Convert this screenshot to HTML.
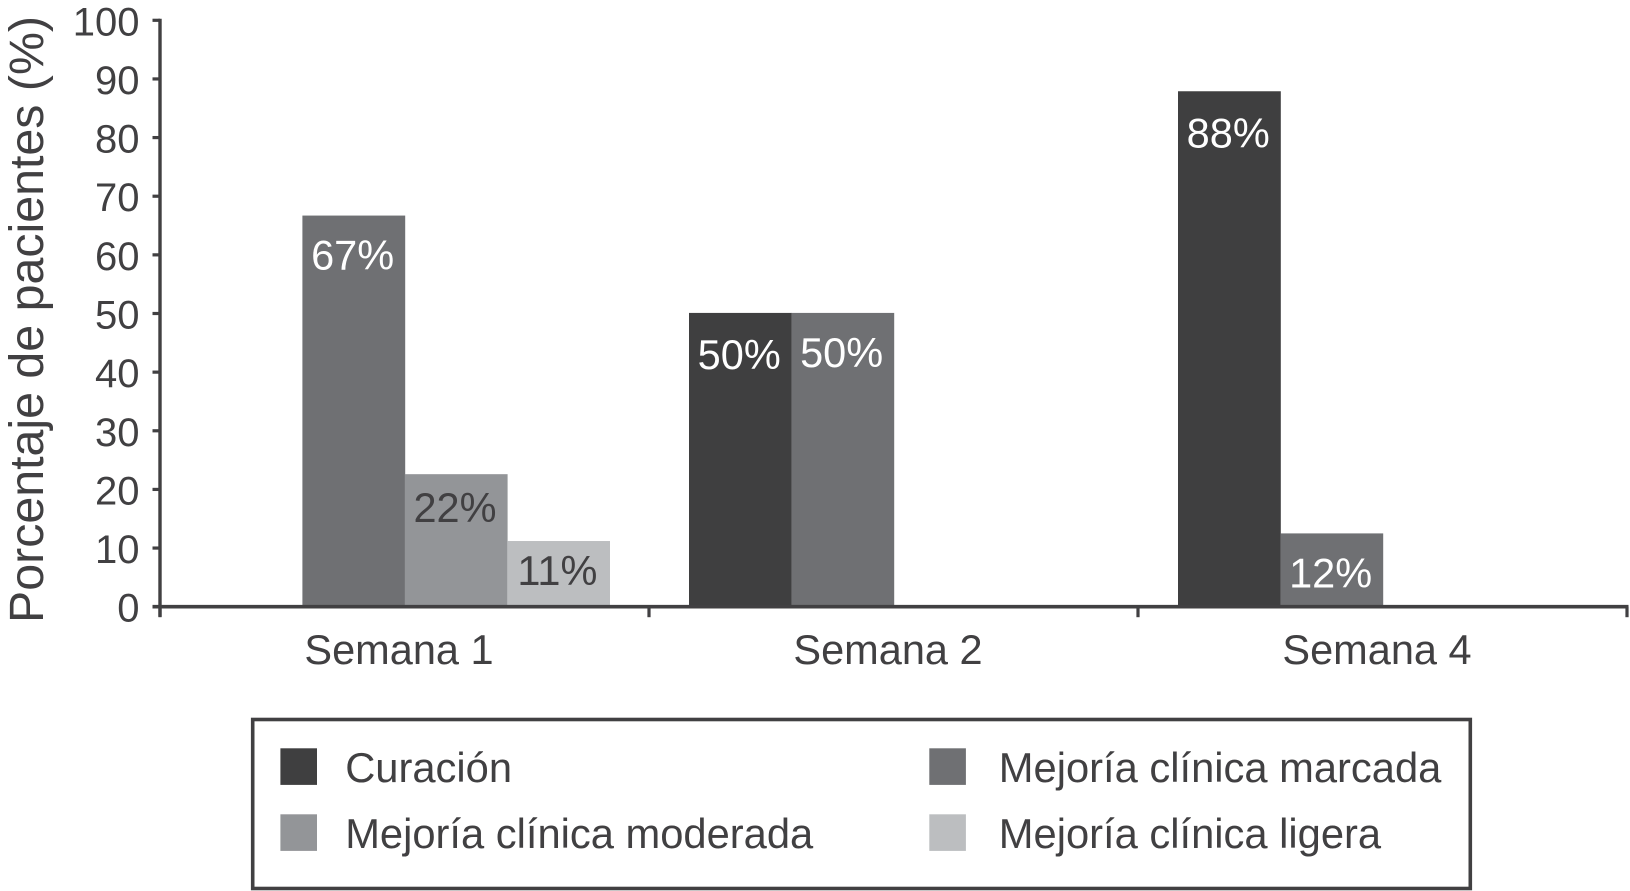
<!DOCTYPE html>
<html lang="es">
<head>
<meta charset="utf-8">
<title>Porcentaje de pacientes por semana</title>
<style>
  html, body { margin: 0; padding: 0; background: #fff; }
  svg { display: block; }
  text { font-family: "Liberation Sans", Arial, sans-serif; fill: #414042; }
</style>
</head>
<body>
<svg id="chart" xmlns="http://www.w3.org/2000/svg" width="1630" height="891" viewBox="0 0 1630 891">
  <rect x="0" y="0" width="1630" height="891" fill="#ffffff"/>
  <text transform="translate(43 623) rotate(-90)" font-size="48.5" textLength="607" lengthAdjust="spacingAndGlyphs">Porcentaje de pacientes (%)</text>
  <g id="bars"></g>
  <g id="axes"></g>
  <g>
    <rect x="252.7" y="719.5" width="1217.6" height="169" fill="#ffffff" stroke="#414042" stroke-width="3.6"/>
    <rect x="280.4" y="748.3" width="36.6" height="36.6" fill="#3f3f40"/>
    <text x="345.2" y="782" font-size="41.7">Curación</text>
    <rect x="929.3" y="748.3" width="36.6" height="36.6" fill="#6f7073"/>
    <text x="998.8" y="782" font-size="41.7">Mejoría clínica marcada</text>
    <rect x="280.4" y="814.3" width="36.6" height="36.6" fill="#939598"/>
    <text x="345.2" y="848" font-size="41.7">Mejoría clínica moderada</text>
    <rect x="929.3" y="814.3" width="36.6" height="36.6" fill="#bcbec0"/>
    <text x="998.8" y="848" font-size="41.7">Mejoría clínica ligera</text>
  </g>
</svg>
<script>
// Chart data
var categories = ["Semana 1", "Semana 2", "Semana 4"];
var yTicks = [0, 10, 20, 30, 40, 50, 60, 70, 80, 90, 100];
var seriesNames = ["curacion", "marcada", "moderada", "ligera"];
var curacion = [null, 50.1, 87.9];
var marcada = [66.7, 50.1, 12.5];
var moderada = [22.6, null, null];
var ligera = [11.2, null, null];
var curacionLabels = ["", "50%", "88%"];
var marcadaLabels = ["67%", "50%", "12%"];
var moderadaLabels = ["22%", "", ""];
var ligeraLabels = ["11%", "", ""];

var SVGNS = "http://www.w3.org/2000/svg";
var seriesValues = [curacion, marcada, moderada, ligera];
var seriesLabels = [curacionLabels, marcadaLabels, moderadaLabels, ligeraLabels];
var seriesFill = ["#3f3f40", "#6f7073", "#939598", "#bcbec0"];
var labelFill = ["#ffffff", "#ffffff", "#414042", "#414042"];
var labelDrop = [56, 54, 48, 44];

// Axis functions
var yBase = 606.7, yUnit = 5.864;
var xStart = 160, catStep = 489, groupPad = 40, barW = 102.4;
function yScale(v) { return yBase - v * yUnit; }
function catX(i) { return xStart + i * catStep; }
function barX(i, s) { return catX(i) + groupPad + s * barW; }

function make(tag, attrs, parent, content) {
  var el = document.createElementNS(SVGNS, tag);
  for (var k in attrs) el.setAttribute(k, attrs[k]);
  if (content !== undefined) el.textContent = content;
  parent.appendChild(el);
  return el;
}

var barsG = document.getElementById("bars");
var axesG = document.getElementById("axes");
var axisColor = "#414042";

seriesValues.forEach(function (values, s) {
  values.forEach(function (v, i) {
    if (v === null) return;
    var bar = make("rect", {
      x: barX(i, s), y: yScale(v),
      width: barW + 0.4, height: yBase - yScale(v),
      fill: seriesFill[s]
    }, barsG);
    
    
    var lab = make("text", {
      x: barX(i, s) + barW / 2 - 1, y: yScale(v) + labelDrop[s],
      "text-anchor": "middle", "font-size": 41.5
    }, barsG, seriesLabels[s][i]);
    lab.style.fill = labelFill[s];
    
    
  });
});

var yLine = make("line", {
  x1: xStart, x2: xStart, y1: yScale(100) - 1.5, y2: yBase + 10,
  stroke: axisColor, "stroke-width": 3.4
}, axesG);



var xLine = make("line", {
  x1: xStart - 7.5, x2: catX(categories.length) + 1.5, y1: yBase, y2: yBase,
  stroke: axisColor, "stroke-width": 3.6
}, axesG);



yTicks.forEach(function (t) {
  var tick = make("line", {
    x1: xStart - 7.5, x2: xStart, y1: yScale(t), y2: yScale(t),
    stroke: axisColor, "stroke-width": 3.2
  }, axesG);
  
  
  var lab = make("text", {
    x: 139.5, y: yScale(t) + 15, "text-anchor": "end", "font-size": 40
  }, axesG, String(t));
  
  
});

for (var c = 0; c <= categories.length; c++) {
  var xt = make("line", {
    x1: catX(c), x2: catX(c), y1: yBase, y2: yBase + 10.5,
    stroke: axisColor, "stroke-width": 3.2
  }, axesG);
  
  
}

categories.forEach(function (name, i) {
  var lab = make("text", {
    x: catX(i) + catStep / 2 - 5.5, y: 664, "text-anchor": "middle", "font-size": 41.5
  }, axesG, name);
  
  
});
</script>
</body>
</html>
